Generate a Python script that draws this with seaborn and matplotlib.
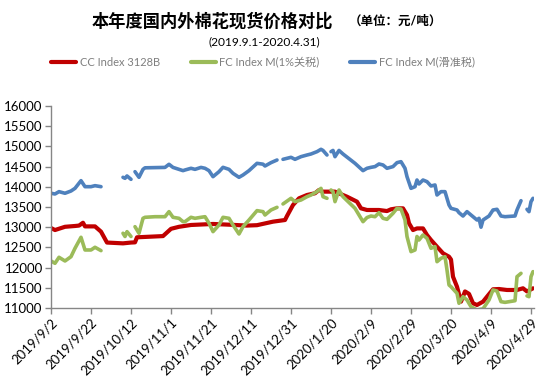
import numpy as np
import pandas as pd
import matplotlib
matplotlib.use("Agg")
import matplotlib.pyplot as plt
import matplotlib.dates as mdates
from matplotlib.lines import Line2D
import seaborn as sns

sns.set_theme(style="white")
plt.rcParams['font.family'] = ['Lato', 'Noto Sans CJK SC', 'DejaVu Sans']

title = "本年度国内外棉花现货价格对比"
unit = "（单位：元/吨）"
subtitle = "(2019.9.1-2020.4.31)"
series_names = ["CC Index 3128B", "FC Index M(1%关税)", "FC Index M(滑准税)"]
colors = ["#C00000", "#9BBB59", "#4F81BD"]

cc_dates = ["2019-09-02", "2019-09-04", "2019-09-09", "2019-09-14", "2019-09-16", "2019-09-18",
            "2019-09-19", "2019-09-24", "2019-09-27", "2019-09-30", "2019-10-08", "2019-10-12",
            "2019-10-14", "2019-10-15", "2019-10-28", "2019-11-01", "2019-11-05", "2019-11-11",
            "2019-11-22", "2019-12-01", "2019-12-09", "2019-12-14", "2019-12-22", "2019-12-28",
            "2019-12-29", "2020-01-01", "2020-01-04", "2020-01-08", "2020-01-12", "2020-01-14",
            "2020-01-16", "2020-01-22", "2020-01-28", "2020-02-02", "2020-02-04", "2020-02-07",
            "2020-02-13", "2020-02-17", "2020-02-19", "2020-02-22", "2020-02-25", "2020-02-27",
            "2020-02-28", "2020-03-01", "2020-03-03", "2020-03-06", "2020-03-08", "2020-03-10",
            "2020-03-13", "2020-03-16", "2020-03-19", "2020-03-20", "2020-03-21", "2020-03-23",
            "2020-03-25", "2020-03-27", "2020-03-29", "2020-03-31", "2020-04-02", "2020-04-05",
            "2020-04-07", "2020-04-10", "2020-04-13", "2020-04-17", "2020-04-22", "2020-04-25",
            "2020-04-27", "2020-04-30"]
cc_values = [12980, 12930, 13010, 13030, 13040, 13110,
             13020, 13020, 12890, 12620, 12600, 12620,
             12625, 12750, 12780, 12960, 13010, 13055,
             13080, 13060, 13040, 13050, 13137, 13178,
             13277, 13550, 13715, 13797, 13840, 13920,
             13880, 13880, 13755, 13632, 13467, 13426,
             13426, 13400, 13443, 13467, 13467, 13302,
             13097, 12930, 12970, 12970, 12807, 12683,
             12517, 12354, 12270, 12200, 11775, 11527,
             11157, 11410, 11350, 11117, 11075, 11157,
             11280, 11463, 11470, 11446, 11446, 11488,
             11410, 11488]

fc_dates = ["2019-09-02", "2019-09-04", "2019-09-06", "2019-09-09", "2019-09-12", "2019-09-14",
            "2019-09-17", "2019-09-19", "2019-09-22", "2019-09-24", "2019-09-27", "2019-09-30",
            "2019-10-08", "2019-10-09", "2019-10-10", "2019-10-12", "2019-10-13", "2019-10-14",
            "2019-10-16", "2019-10-18", "2019-10-19", "2019-10-24", "2019-10-29", "2019-10-31",
            "2019-11-02", "2019-11-05", "2019-11-07", "2019-11-08", "2019-11-11", "2019-11-13",
            "2019-11-16", "2019-11-18", "2019-11-20", "2019-11-22", "2019-11-25", "2019-11-27",
            "2019-11-30", "2019-12-02", "2019-12-05", "2019-12-07", "2019-12-10", "2019-12-14",
            "2019-12-17", "2019-12-18", "2019-12-21", "2019-12-24", "2019-12-26", "2019-12-27",
            "2019-12-31", "2020-01-02", "2020-01-05", "2020-01-08", "2020-01-10", "2020-01-13",
            "2020-01-15", "2020-01-16", "2020-01-18", "2020-01-19", "2020-01-20", "2020-01-21",
            "2020-01-22", "2020-01-24", "2020-01-26", "2020-02-01", "2020-02-05", "2020-02-07",
            "2020-02-09", "2020-02-11", "2020-02-13", "2020-02-15", "2020-02-17", "2020-02-20",
            "2020-02-22", "2020-02-24", "2020-02-26", "2020-02-27", "2020-02-29", "2020-03-02",
            "2020-03-03", "2020-03-04", "2020-03-06", "2020-03-08", "2020-03-10", "2020-03-12",
            "2020-03-13", "2020-03-15", "2020-03-17", "2020-03-18", "2020-03-19", "2020-03-20",
            "2020-03-23", "2020-03-24", "2020-03-26", "2020-03-28", "2020-03-30", "2020-04-02",
            "2020-04-03", "2020-04-04", "2020-04-05", "2020-04-08", "2020-04-10", "2020-04-12",
            "2020-04-14", "2020-04-16", "2020-04-21", "2020-04-22", "2020-04-24", "2020-04-26",
            "2020-04-27", "2020-04-28", "2020-04-29", "2020-04-30"]
fc_1pct = [12164, 12107, 12255, 12164, 12270, 12478,
           12750, 12436, 12436, 12503, 12420, None,
           12850, 12770, 12890, 12770, None, 13013,
           12850, 13220, 13245, 13260, 13260, 13385,
           13245, 13220, 13137, 13137, 13245, 13220,
           13245, 13260, 13100, 12890, 13055, 13245,
           13220, 13055, 12832, 13013, 13178, 13410,
           13385, 13302, 13426, 13492, None, 13575,
           13715, 13632, 13673, 13755, 13797, 13880,
           13962, 13755, 13715, None, 13921, 13880,
           13632, 13921, 13755, 13467, 13137, 13240,
           13277, 13260, 13360, 13220, 13195, 13344,
           13467, 13450, 13178, 12770, 12395, 12436,
           12770, 12683, 12807, 12725, 12478, 12520,
           12146, 12230, 12270, 11940, 11570, 11527,
           11364, 11117, 11280, 11198, 11033, 10950,
           10960, 10970, 10980, 11198, 11446, 11420,
           11157, 11140, 11180, 11775, 11858, None,
           11300, 11280, 11775, 11900]
fc_sliding = [13840, 13822, 13880, 13840, 13896, 13962,
              14152, 14003, 14003, 14028, 14003, None,
              14235, 14210, 14268, 14185, None, 14374,
              14235, 14432, 14470, 14475, 14480, 14557,
              14480, 14432, 14400, 14416, 14458, 14432,
              14480, 14458, 14400, 14251, 14374, 14482,
              14432, 14333, 14235, 14292, 14400, 14581,
              14560, 14515, 14598, 14663, None, 14680,
              14730, 14680, 14746, 14787, 14812, 14870,
              14928, 14900, 14787, None, 14870, 14900,
              14746, 14900, 14812, 14581, 14400, 14458,
              14482, 14500, 14565, 14540, 14458, 14500,
              14598, 14622, 14458, 14251, 13962, 14003,
              14168, 14070, 14168, 14127, 14020, 14045,
              13797, 13880, 13880, 13715, 13550, 13467,
              13426, 13360, 13277, 13385, 13302, 13178,
              13220, 13000, 13178, 13277, 13426, 13443,
              13277, 13260, 13277, 13426, 13656, None,
              13443, 13385, 13632, 13715]

yticks = list(range(11000, 16001, 500))
xtick_start = "2019-09-02"
xtick_step_days = 20
n_xticks = 13


def segments(dates, values):
    df = pd.DataFrame({"date": pd.to_datetime(dates),
                       "value": pd.array(values, dtype="Float64").astype(float)})
    df["seg"] = df["value"].isna().cumsum()
    return df.dropna()


fig = plt.figure(figsize=(5.54, 3.84), dpi=100)
ax = fig.add_axes([51 / 554, 1 - 308 / 384, (534 - 51) / 554, (308 - 106) / 384])

data_sets = [(cc_dates, cc_values, 3.0), (fc_dates, fc_1pct, 2.6), (fc_dates, fc_sliding, 2.6)]
for (d, v, lw), c in zip(data_sets, colors):
    df = segments(d, v)
    sns.lineplot(data=df, x="date", y="value", units="seg", estimator=None,
                 color=c, linewidth=lw, ax=ax, legend=False)

start = pd.Timestamp(xtick_start)
ticks = [start + pd.Timedelta(days=xtick_step_days * i) for i in range(n_xticks)]
ax.set_xlim(start, start + pd.Timedelta(days=241.5))
ax.set_ylim(11000, 16000)
ax.set_yticks(yticks)
ax.set_yticklabels([str(t) for t in yticks], fontsize=9.5, color="#000000")
ax.set_xticks(ticks)
ax.set_xticklabels([f"{t.year}/{t.month}/{t.day}" for t in ticks], rotation=45,
                   ha="right", rotation_mode="anchor", fontsize=9.5, color="#000000")
ax.set_xlabel("")
ax.set_ylabel("")
for s in ["top", "right"]:
    ax.spines[s].set_visible(False)
for s in ["left", "bottom"]:
    ax.spines[s].set_color("#868686")
    ax.spines[s].set_linewidth(1.0)
ax.tick_params(axis="both", which="major", direction="out", length=4, width=1,
               color="#868686", left=True, bottom=True, pad=2)
ax.grid(False)

fig.text(212 / 554, 1 - 21 / 384, title, fontsize=12.4, fontweight="bold",
         ha="center", va="center", color="#000000")
fig.text(395 / 554, 1 - 21 / 384, unit, fontsize=9, fontweight="bold",
         ha="center", va="center", color="#000000")
fig.text(264 / 554, 1 - 42 / 384, subtitle, fontsize=8.6, ha="center", va="center",
         color="#000000")

handles = [Line2D([0], [0], color=c, lw=3) for c in colors]
leg = fig.legend(handles, series_names, loc="center", bbox_to_anchor=(263 / 554, 1 - 62 / 384),
                 ncol=3, frameon=False, fontsize=8, handlelength=2.25, handletextpad=0.3,
                 columnspacing=2.8, borderpad=0, borderaxespad=0)
for t in leg.get_texts():
    t.set_color("#7F7F7F")

fig.savefig("out.png", dpi=100)
